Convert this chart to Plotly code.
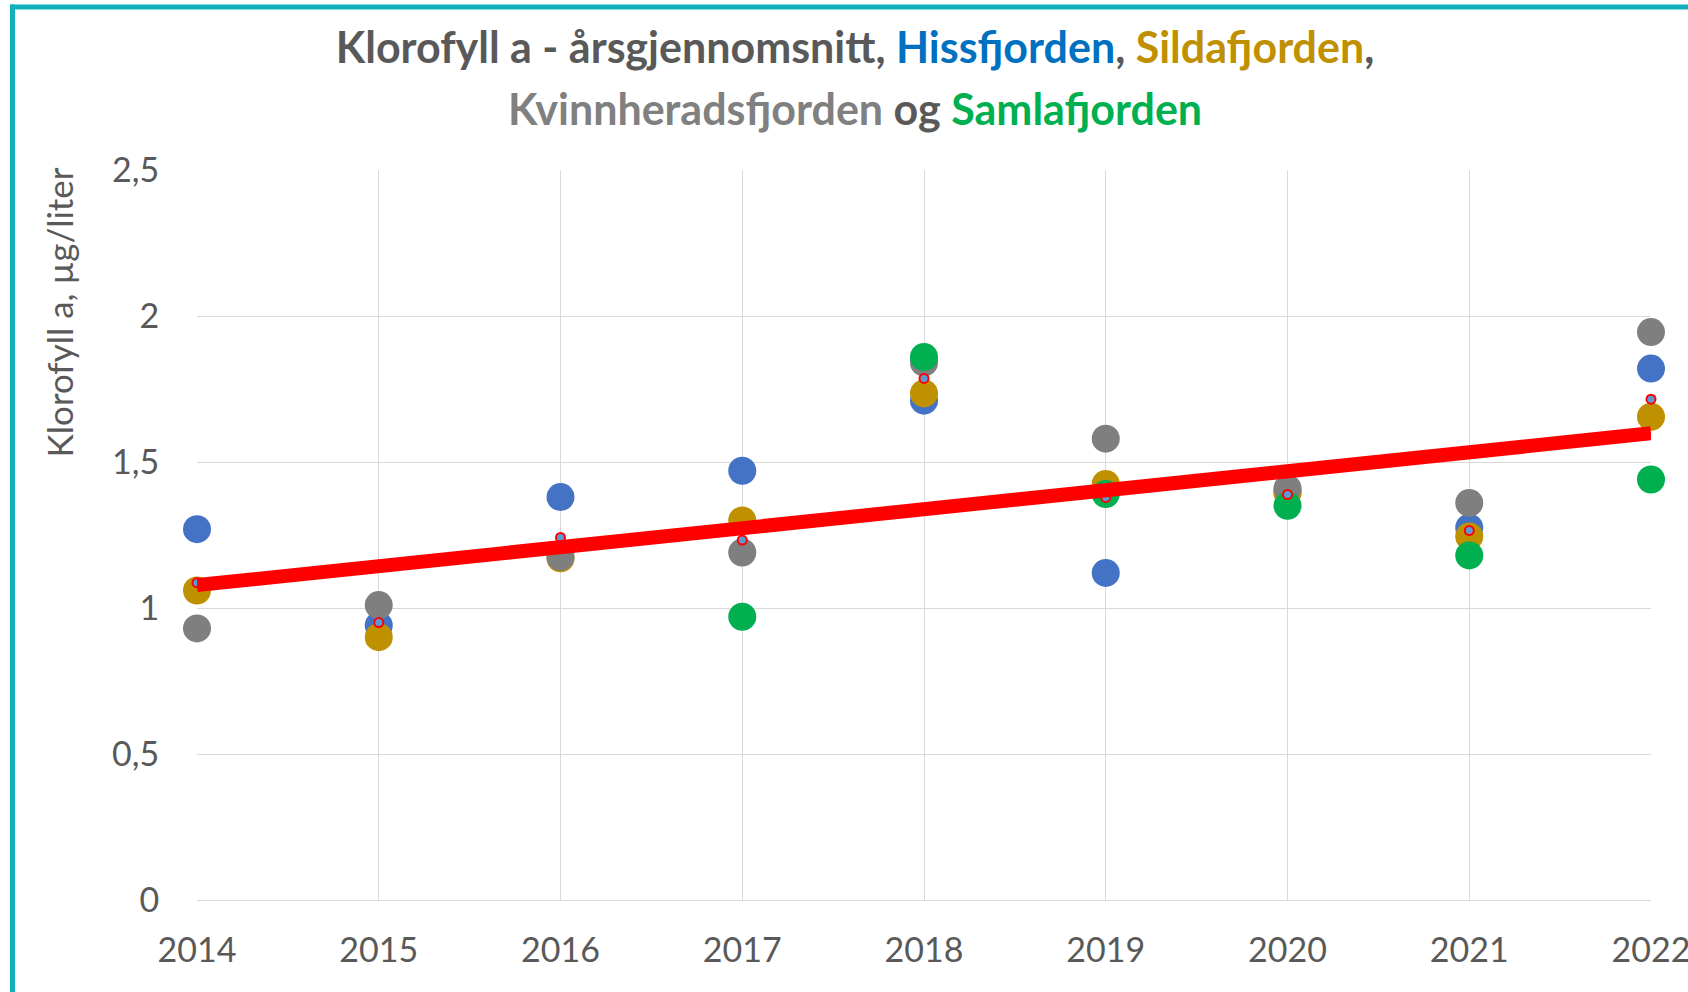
import numpy as np
import plotly.graph_objects as go

years = [2014, 2015, 2016, 2017, 2018, 2019, 2020, 2021, 2022]
hissfjorden = [1.27, 0.94, 1.38, 1.47, 1.71, 1.12, 1.40, 1.275, 1.82]
sildafjorden = [1.06, 0.90, 1.17, 1.30, 1.735, 1.425, 1.395, 1.245, 1.655]
kvinnherad = [0.93, 1.01, 1.175, 1.19, 1.84, 1.58, 1.41, 1.36, 1.945]
samlafjorden = [None, None, None, 0.97, 1.86, 1.39, 1.35, 1.18, 1.44]

y_ticks = [0, 0.5, 1, 1.5, 2, 2.5]

def mean_row(vals):
    v = [x for x in vals if x is not None]
    return sum(v) / len(v)

average = [mean_row(r) for r in zip(hissfjorden, sildafjorden, kvinnherad, samlafjorden)]
slope, intercept = np.polyfit(years, average, 1)
trend = [slope * x + intercept for x in years]

fig = go.Figure()
series = [
    ("Hissfjorden", hissfjorden, "#4472C4"),
    ("Sildafjorden", sildafjorden, "#BF9000"),
    ("Kvinnheradsfjorden", kvinnherad, "#7F7F7F"),
    ("Samlafjorden", samlafjorden, "#00B050"),
]
for name, vals, col in series:
    fig.add_trace(go.Scatter(x=years, y=vals, mode="markers", name=name,
                             marker=dict(size=28, color=col, line=dict(width=0)),
                             cliponaxis=False))
fig.add_trace(go.Scatter(x=years, y=average, mode="markers", name="Gjennomsnitt",
                         marker=dict(size=9, color="#5B9BD5", line=dict(width=2, color="#FF0000")),
                         cliponaxis=False))
fig.add_trace(go.Scatter(x=years, y=trend, mode="lines", name="Trend",
                         line=dict(color="#FF0000", width=14), cliponaxis=False))

teal = "#12AFBC"
L, R, T, B = 197, 37, 169.5, 92
W, H = 1688, 992
pw, ph = W - L - R, H - T - B
def px(xp):
    return (xp - L) / pw
def py(yp):
    return (H - B - yp) / ph

fig.update_layout(
    width=W, height=H,
    margin=dict(l=L, r=R, t=T, b=B, autoexpand=False),
    paper_bgcolor="white", plot_bgcolor="white",
    showlegend=False,
    separators=", ",
    font=dict(family="Lato", color="#595959"),
    title=dict(
        text="Klorofyll a - årsgjennomsnitt, <span style='color:#0070C0'>Hissfjorden</span>, "
             "<span style='color:#BF9000'>Sildafjorden</span>,",
        x=855 / W, xanchor="center", y=1 - 48 / H, yanchor="middle",
        font=dict(family="Lato", size=43, color="#595959", weight="bold"),
    ),
    annotations=[
        dict(text="<span style='color:#808080'>Kvinnheradsfjorden</span> og "
                  "<span style='color:#00B050'>Samlafjorden</span>",
             xref="paper", yref="paper", x=px(855), y=py(107.5),
             xanchor="center", yanchor="middle", showarrow=False,
             font=dict(family="Lato", size=43, color="#595959", weight="bold")),
        dict(text="Klorofyll a, µg/liter", xref="paper", yref="paper",
             x=px(59), y=py(312), xanchor="center", yanchor="middle",
             textangle=-90, showarrow=False,
             font=dict(family="Lato", size=35, color="#595959")),
    ],
    shapes=[
        dict(type="line", xref="paper", yref="paper", x0=px(12.5), x1=px(12.5),
             y0=py(4), y1=py(H + 5), line=dict(color=teal, width=5)),
        dict(type="line", xref="paper", yref="paper", x0=px(10), x1=px(W + 5),
             y0=py(6.5), y1=py(6.5), line=dict(color=teal, width=5)),
    ],
)
fig.update_xaxes(range=[2014, 2022], tickvals=years, showgrid=True, gridcolor="#D9D9D9",
                 gridwidth=1, zeroline=False, showline=True, linecolor="#D9D9D9",
                 tickfont=dict(family="Lato", size=34, color="#595959"),
                 ticklabeloverflow="allow", automargin=False,
                 ticks="outside", ticklen=20, tickcolor="rgba(0,0,0,0)")
fig.update_yaxes(range=[0, 2.5], tickvals=y_ticks, showgrid=True, gridcolor="#D9D9D9",
                 gridwidth=1, zeroline=False, showline=False, automargin=False,
                 tickfont=dict(family="Lato", size=34, color="#595959"),
                 ticks="outside", ticklen=30, tickcolor="rgba(0,0,0,0)")
fig.write_html("out.html", config={"displayModeBar": False},
               post_script="document.body.style.margin='0';document.body.style.overflow='hidden';")
